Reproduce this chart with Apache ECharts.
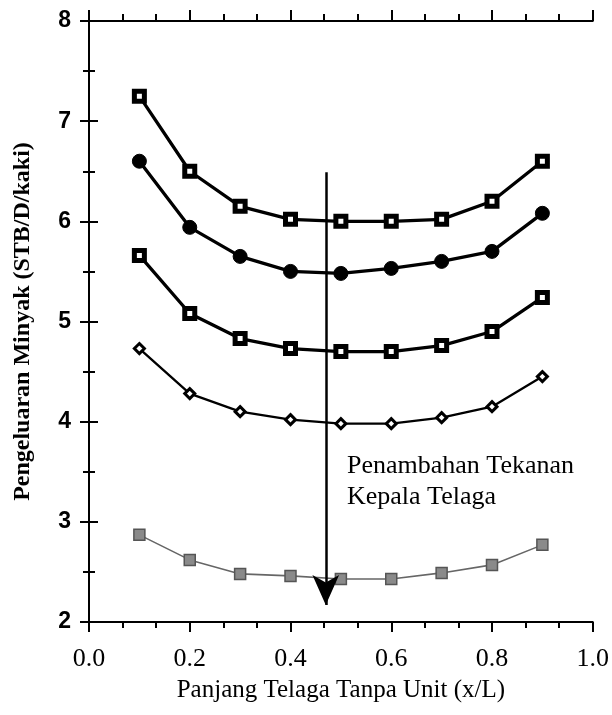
<!DOCTYPE html>
<html><head><meta charset="utf-8">
<script src="https://cdn.jsdelivr.net/npm/echarts@6/dist/echarts.min.js"></script>
<style>html,body{margin:0;padding:0;background:#fff}#c{width:612px;height:715px}</style>
</head><body><div id="c"></div>
<script>
var xValues = [0.1, 0.2, 0.3, 0.4, 0.5, 0.6, 0.7, 0.8, 0.9];
var series1 = [7.25, 6.50, 6.15, 6.02, 6.00, 6.00, 6.02, 6.20, 6.60];
var series2 = [6.60, 5.94, 5.65, 5.50, 5.48, 5.53, 5.60, 5.70, 6.08];
var series3 = [5.66, 5.08, 4.83, 4.73, 4.70, 4.70, 4.76, 4.90, 5.24];
var series4 = [4.73, 4.28, 4.10, 4.02, 3.98, 3.98, 4.04, 4.15, 4.45];
var series5 = [2.87, 2.62, 2.48, 2.46, 2.43, 2.43, 2.49, 2.57, 2.77];
var arrowX = 0.47, arrowFrom = 6.49, arrowTo = 2.17;
var annotation = ['Penambahan Tekanan', 'Kepala Telaga'];

function pts(v){ return xValues.map(function(x,i){ return [x, v[i]]; }); }
var serif = '"Liberation Serif", "DejaVu Serif", serif';
var chart = echarts.init(document.getElementById('c'));
var axisLine = {show:true, lineStyle:{color:'#000', width:2}};
function ticks(len){ return {show:true, length:len, lineStyle:{color:'#000', width:2}}; }
var opt = {
  animation:false,
  grid:{left:89, right:19, top:21, bottom:93},
  xAxis:[{
    type:'value', min:0, max:1, interval:0.2, position:'bottom',
    axisLine:axisLine, axisTick:ticks(10),
    minorTick:{show:true, splitNumber:3, length:6, lineStyle:{color:'#000', width:2}},
    splitLine:{show:false},
    axisLabel:{margin:24, color:'#000', fontFamily:serif, fontSize:26, formatter:function(v){return v.toFixed(1);}},
    name:'Panjang Telaga Tanpa Unit (x/L)', nameLocation:'middle', nameGap:56,
    nameTextStyle:{color:'#000', fontFamily:serif, fontSize:25}
  },{
    type:'value', min:0, max:1, interval:0.2, position:'top',
    axisLine:axisLine, axisTick:ticks(11),
    minorTick:{show:true, splitNumber:3, length:7, lineStyle:{color:'#000', width:2}},
    splitLine:{show:false}, axisLabel:{show:false}
  }],
  yAxis:[{
    type:'value', min:2, max:8, interval:1, position:'left',
    axisLine:axisLine, axisTick:ticks(9),
    minorTick:{show:true, splitNumber:2, length:6, lineStyle:{color:'#000', width:2}},
    splitLine:{show:false},
    axisLabel:{margin:18, color:'#000', fontFamily:'"Liberation Sans", Arial, sans-serif', fontWeight:'bold', fontSize:23},
    name:'Pengeluaran Minyak (STB/D/kaki)', nameLocation:'middle', nameGap:54,
    nameTextStyle:{color:'#000', fontFamily:serif, fontSize:24, fontWeight:'bold'}
  },{
    type:'value', min:2, max:8, interval:1, position:'right',
    axisLine:axisLine, axisTick:ticks(9),
    minorTick:{show:true, splitNumber:2, length:6, lineStyle:{color:'#000', width:2}},
    splitLine:{show:false}, axisLabel:{show:false}
  }],
  series:[
    {type:'line', data:pts(series1), symbol:'rect', symbolSize:10,
     lineStyle:{color:'#000', width:3.3}, itemStyle:{color:'#fff', borderColor:'#000', borderWidth:5}},
    {type:'line', data:pts(series2), symbol:'circle', symbolSize:14,
     lineStyle:{color:'#000', width:3.3}, itemStyle:{color:'#000', borderColor:'#000', borderWidth:1}},
    {type:'line', data:pts(series3), symbol:'rect', symbolSize:10,
     lineStyle:{color:'#000', width:3.3}, itemStyle:{color:'#fff', borderColor:'#000', borderWidth:5}},
    {type:'line', data:pts(series4), symbol:'diamond', symbolSize:10,
     lineStyle:{color:'#000', width:2.3}, itemStyle:{color:'#fff', borderColor:'#000', borderWidth:3}},
    {type:'line', data:pts(series5), symbol:'rect', symbolSize:11,
     lineStyle:{color:'#666', width:1.6}, itemStyle:{color:'#8a8a8a', borderColor:'#555', borderWidth:1.5}},
    {type:'line', data:[], markLine:{
      silent:true, symbol:['none','arrow'], symbolSize:[20,30],
      label:{show:false}, lineStyle:{color:'#000', width:2.5, type:'solid'},
      data:[[{coord:[arrowX, arrowFrom]}, {coord:[arrowX, arrowTo]}]]
    }}
  ],
  graphic:[{
    type:'text', left:347, top:451,
    style:{text:annotation.join('\n'), font:'26px ' + serif, fill:'#000', lineHeight:31}
  }]
};
chart.setOption(opt);
</script></body></html>
